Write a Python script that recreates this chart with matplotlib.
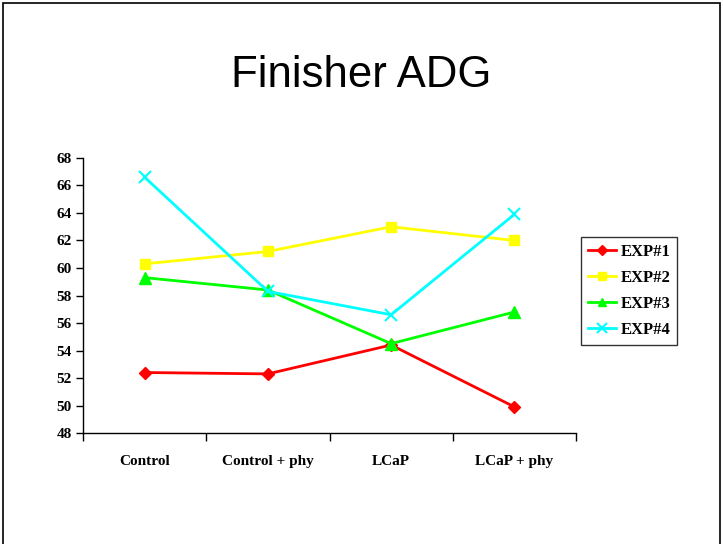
import matplotlib
matplotlib.use("Agg")
import matplotlib.pyplot as plt
from matplotlib.patches import Rectangle
import numpy as np

categories = ["Control", "Control + phy", "LCaP", "LCaP + phy"]
exp1 = [52.4, 52.3, 54.4, 49.9]
exp2 = [60.3, 61.2, 63.0, 62.0]
exp3 = [59.3, 58.4, 54.5, 56.8]
exp4 = [66.6, 58.3, 56.6, 63.9]
series_names = ["EXP#1", "EXP#2", "EXP#3", "EXP#4"]
yticks = list(range(48, 69, 2))

fig = plt.figure(figsize=(7.23, 5.44), dpi=100)
fig.patch.set_facecolor("white")
fig.patches.append(Rectangle((0.004, -0.1), 0.992, 1.094, transform=fig.transFigure,
                             fill=False, edgecolor="black", linewidth=1.2))

ax = fig.add_axes([0.1148, 0.204, 0.6819, 0.5056])
x = np.arange(len(categories))
styles = [
    dict(color="#ff0000", marker="D", markersize=6),
    dict(color="#ffff00", marker="s", markersize=7),
    dict(color="#00ff00", marker="^", markersize=8),
    dict(color="#00ffff", marker="x", markersize=9, markeredgewidth=1.5),
]
for data, name, st in zip([exp1, exp2, exp3, exp4], series_names, styles):
    ax.plot(x, data, linewidth=2, label=name, **st)

serif = ["Liberation Serif", "DejaVu Serif"]
ax.set_xlim(-0.5, len(categories) - 0.5)
ax.set_ylim(48, 68)
ax.set_yticks(yticks)
ax.set_yticklabels([str(t) for t in yticks], fontfamily=serif, fontweight="bold", fontsize=11)
ax.set_xticks(x)
ax.set_xticklabels(categories, fontfamily=serif, fontweight="bold", fontsize=11)
ax.set_xticks(np.arange(-0.5, len(categories), 1.0), minor=True)
ax.tick_params(axis="x", which="major", length=0, pad=16)
ax.tick_params(axis="x", which="minor", length=6, direction="out", width=1)
ax.tick_params(axis="y", length=5, direction="out", width=1, pad=3)
for s in ["top", "right"]:
    ax.spines[s].set_visible(False)
for s in ["left", "bottom"]:
    ax.spines[s].set_linewidth(1)

fig.text(0.5, 0.862, "Finisher ADG", ha="center", va="center",
         fontfamily=["Liberation Sans", "DejaVu Sans"], fontsize=31.5)

leg = fig.legend(loc="center left", bbox_to_anchor=(0.804, 0.465), frameon=True,
                 prop={"family": serif, "weight": "bold", "size": 12},
                 handlelength=1.7, handletextpad=0.25, borderpad=0.4, labelspacing=0.6,
                 markerscale=0.8, fancybox=False, edgecolor="black", borderaxespad=0)
leg.get_frame().set_linewidth(1)

fig.savefig("out.png", dpi=100)
